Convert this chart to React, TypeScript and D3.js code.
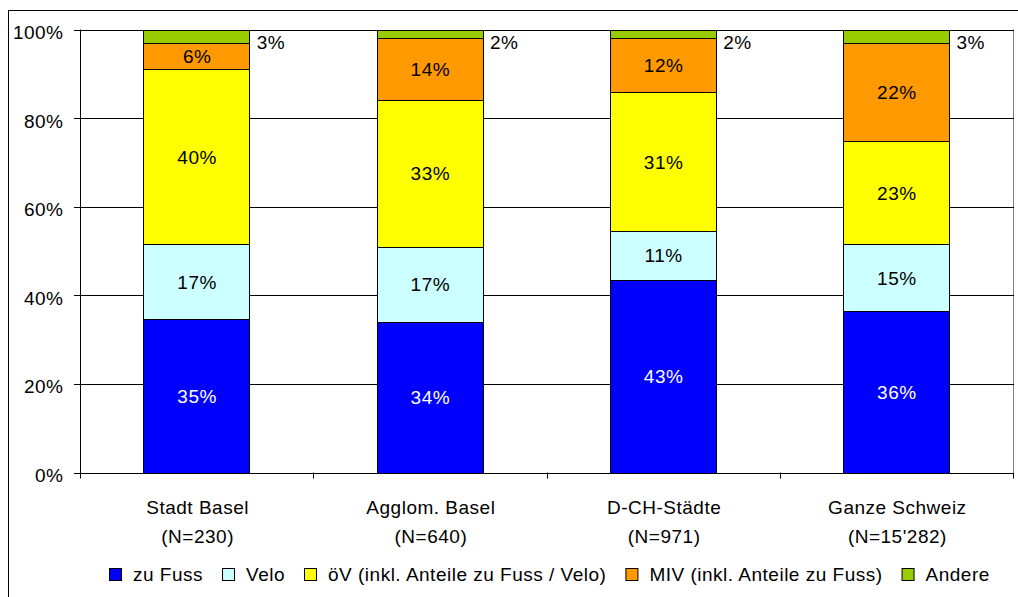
import React, { useEffect, useRef } from "react";
import * as d3 from "d3";

const categories = ["Stadt Basel", "Agglom. Basel", "D-CH-Städte", "Ganze Schweiz"];
const sampleSizes = ["(N=230)", "(N=640)", "(N=971)", "(N=15'282)"];
const seriesNames = [
  "zu Fuss",
  "Velo",
  "öV (inkl. Anteile zu Fuss / Velo)",
  "MIV (inkl. Anteile zu Fuss)",
  "Andere",
];
const seriesKeys = ["fuss", "velo", "oev", "miv", "andere"];
const fussValues = [35, 34, 43, 36];
const veloValues = [17, 17, 11, 15];
const oevValues = [40, 33, 31, 23];
const mivValues = [6, 14, 12, 22];
const andereValues = [3, 2, 2, 3];
const seriesColors = ["#0000FF", "#CCFFFF", "#FFFF00", "#FF9900", "#99CC00"];
const labelColors = ["#FFFFFF", "#000000", "#000000", "#000000", "#000000"];
const yTicks = [0, 0.2, 0.4, 0.6, 0.8, 1];

const FONT = "'Liberation Sans', Arial, sans-serif";
const FS = 19;
const LS = 0.5;

export default function App() {
  const ref = useRef<SVGSVGElement | null>(null);

  useEffect(() => {
    const svg = d3.select(ref.current);
    svg.selectAll("*").remove();

    const rows = categories.map((c, i) => ({
      cat: c,
      fuss: fussValues[i],
      velo: veloValues[i],
      oev: oevValues[i],
      miv: mivValues[i],
      andere: andereValues[i],
    }));

    const stack = d3.stack<any>().keys(seriesKeys).offset(d3.stackOffsetExpand);
    const layers = stack(rows);

    const left = 80, right = 1013, top = 29.5, bottom = 472.5;
    const x = d3.scaleBand().domain(categories).range([left, right]).paddingInner(0.544).paddingOuter(0.272);
    const y = d3.scaleLinear().domain([0, 1]).range([bottom, top]);
    const step = x.step();

    // outer frame
    svg.append("rect").attr("x", 8.5).attr("y", 10.5).attr("width", 1200).attr("height", 800)
      .attr("fill", "#fff").attr("stroke", "#000").attr("stroke-width", 1);

    // plot area right border
    svg.append("line").attr("x1", right + 0.5).attr("x2", right + 0.5).attr("y1", top).attr("y2", bottom)
      .attr("stroke", "#808080").attr("stroke-width", 1);

    // gridlines
    svg.append("g").selectAll("line").data(yTicks.filter((t) => t > 0)).join("line")
      .attr("x1", left).attr("x2", right + 1)
      .attr("y1", (d) => Math.round(y(d)) + 0.5).attr("y2", (d) => Math.round(y(d)) + 0.5)
      .attr("stroke", "#000").attr("stroke-width", 1);

    // bars
    const g = svg.append("g");
    layers.forEach((layer, li) => {
      g.append("g").selectAll("rect").data(layer).join("rect")
        .attr("x", (d: any) => Math.round(x(d.data.cat)!) + 0.5)
        .attr("width", Math.round(x.bandwidth()))
        .attr("y", (d: any) => Math.round(y(d[1])) + 0.5)
        .attr("height", (d: any) => Math.round(y(d[0])) - Math.round(y(d[1])))
        .attr("fill", seriesColors[li])
        .attr("stroke", "#000").attr("stroke-width", 1);
    });

    // data labels
    layers.forEach((layer, li) => {
      const key = seriesKeys[li];
      const isLast = li === layers.length - 1;
      g.append("g").selectAll("text").data(layer).join("text")
        .attr("x", (d: any) => isLast ? x(d.data.cat)! + x.bandwidth() + 7 : x(d.data.cat)! + x.bandwidth() / 2 + 0.5)
        .attr("y", (d: any) => isLast ? y(d[1]) + 19 : (y(d[0]) + y(d[1])) / 2 + 7)
        .attr("text-anchor", isLast ? "start" : "middle")
        .attr("fill", labelColors[li])
        .attr("font-family", FONT).attr("font-size", FS).attr("letter-spacing", LS)
        .text((d: any) => `${d.data[key]}%`);
    });

    // y axis
    svg.append("line").attr("x1", left + 0.5).attr("x2", left + 0.5).attr("y1", top).attr("y2", bottom + 1)
      .attr("stroke", "#000");
    svg.append("g").selectAll("line").data(yTicks).join("line")
      .attr("x1", left - 6).attr("x2", left)
      .attr("y1", (d) => Math.round(y(d)) + 0.5).attr("y2", (d) => Math.round(y(d)) + 0.5)
      .attr("stroke", "#000");
    svg.append("g").selectAll("text").data(yTicks).join("text")
      .attr("x", 63.5).attr("y", (d) => y(d) + 9.5)
      .attr("text-anchor", "end")
      .attr("font-family", FONT).attr("font-size", FS).attr("letter-spacing", LS)
      .text((d) => d3.format(".0%")(d));

    // x axis
    svg.append("line").attr("x1", left).attr("x2", right + 1)
      .attr("y1", Math.round(bottom) + 0.5).attr("y2", Math.round(bottom) + 0.5).attr("stroke", "#000");
    svg.append("g").selectAll("line").data(d3.range(categories.length + 1)).join("line")
      .attr("x1", (i) => Math.round(left + i * step) + 0.5).attr("x2", (i) => Math.round(left + i * step) + 0.5)
      .attr("y1", bottom).attr("y2", bottom + 6).attr("stroke", "#000");
    const catG = svg.append("g").selectAll("text").data(categories).join("text")
      .attr("text-anchor", "middle")
      .attr("font-family", FONT).attr("font-size", FS).attr("letter-spacing", LS);
    catG.append("tspan").attr("x", (d) => x(d)! + x.bandwidth() / 2 + 1).attr("y", 514).text((d) => d);
    catG.append("tspan").attr("x", (d) => x(d)! + x.bandwidth() / 2 + 1).attr("y", 542.5)
      .text((d, i) => sampleSizes[i]);

    // legend
    const lg = svg.append("g");
    let cx = 109;
    seriesNames.forEach((name, i) => {
      lg.append("rect").attr("x", cx + 0.5).attr("y", 568.5).attr("width", 12).attr("height", 12)
        .attr("fill", seriesColors[i]).attr("stroke", "#000").attr("stroke-width", 1);
      const t = lg.append("text").attr("x", cx + 24).attr("y", 581)
        .attr("font-family", FONT).attr("font-size", FS).attr("letter-spacing", LS)
        .text(name);
      const w = (t.node() as SVGTextElement).getComputedTextLength();
      cx = cx + 24 + w + 19;
    });
  }, []);

  return (
    <svg
      ref={ref}
      width={1018}
      height={597}
      style={{ position: "absolute", left: 0, top: 0, background: "#fff" }}
    />
  );
}
